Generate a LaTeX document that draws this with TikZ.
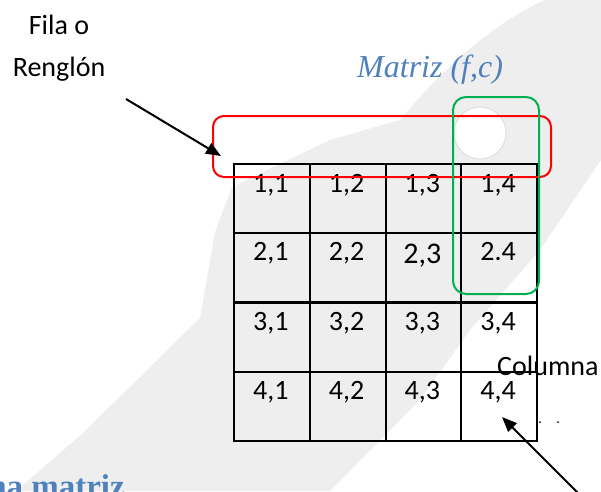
\documentclass[tikz,border=0pt]{standalone}
\usepackage{fontspec}
\setmainfont{Carlito}
\newfontfamily\serifface{Liberation Serif}
\usetikzlibrary{arrows.meta}
\definecolor{wmgray}{HTML}{EEEEEE}
\definecolor{titleblue}{HTML}{4F81BD}
\definecolor{boxred}{HTML}{FF0000}
\definecolor{boxgreen}{HTML}{00B050}
\tikzset{
  wm/.style={fill=wmgray, draw=none},
  cell/.style={draw=black, line width=2pt, minimum width=75.75pt, minimum height=69pt, inner sep=0pt},
  celltext/.style={anchor=base, inner sep=0pt, font=\fontsize{28}{30}\selectfont},
  plain/.style={inner sep=0pt, font=\fontsize{28}{30}\selectfont},
  pointer/.style={line width=2pt, -{Triangle[length=15pt,width=12pt]}},
  selbox/.style={line width=2pt, rounded corners=11pt}
}
\begin{document}
\begin{tikzpicture}[x=1pt,y=-1pt]
\useasboundingbox (0,0) rectangle (601,491);
\clip (0,0) rectangle (601,491);
% faint watermark
\fill[wm] (0,505) -- (83,433) -- (200,318) -- (215,232) -- (232,187) -- (330,140) -- (400,120)
  .. controls (450,60) and (500,20) .. (545,0) -- (601,0) -- (601,160) -- (540,250) -- (470,330)
  -- (420,400) -- (330,491) -- (0,491) -- cycle;
\draw[draw=black!12, line width=1pt, fill=white] (480,133) circle (26);
% grid cells
\foreach \r/\yt in {1/163,2/232,3/302,4/371}{
  \foreach \c/\xl in {1/233,2/308.75,3/384.5,4/460.25}{
    \node[cell, anchor=north west] (c\r\c) at (\xl,\yt) {};
  }
}
% cell labels
\foreach \r/\yb in {1/192,2/260,3/330,4/399}{
  \foreach \c/\xc in {1/270.9,2/346.6,3/422.4,4/498.1}{
    \ifnum\r=2 \ifnum\c>2 \else \node[celltext] (t\r\c) at (\xc,\yb) {\r,\c};\fi
    \else \node[celltext] (t\r\c) at (\xc,\yb) {\r,\c};\fi
  }
}
\node[celltext, font=\fontsize{30}{32}\selectfont] (t23) at (422.4,263) {2,3};
\node[celltext] (t24) at (498.1,260) {2.4};
% labels
\node[plain, anchor=base] (fila) at (59,34) {Fila o};
\node[plain, anchor=base] (renglon) at (59,76) {Renglón};
\node[anchor=base west, inner sep=0pt, text=titleblue, font=\serifface\itshape\fontsize{32}{34}\selectfont] (titulo) at (357,77) {Matriz (f,c)};
\node[plain, anchor=base west] (columna) at (497,375) {Columna};
\node[anchor=base east, inner sep=0pt, text=titleblue, font=\serifface\bfseries\fontsize{33}{35}\selectfont] (sub) at (125,497) {na matriz};
% dots
\fill (540,422) circle (1);
\fill (558,422) circle (1);
% selection boxes
\draw[selbox, draw=boxred] (213,116) rectangle (551,177);
\draw[selbox, draw=boxgreen, rounded corners=13pt] (453,97) rectangle (539,294);
% arrows
\coordinate (a1) at (126,99);
\coordinate (a1tip) at (221,156);
\draw[pointer] (a1) -- (a1tip);
\coordinate (a2) at (582,497);
\coordinate (a2tip) at (502,417);
\draw[pointer] (a2) -- (a2tip);
\end{tikzpicture}
\end{document}
